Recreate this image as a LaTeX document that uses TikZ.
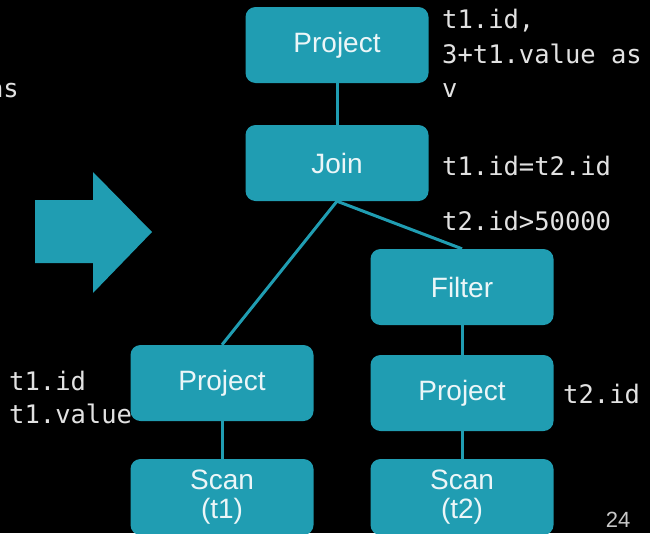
\documentclass[tikz,border=0pt]{standalone}
\usepackage{fontspec}
\setmainfont{Liberation Sans}
\setmonofont{DejaVu Sans Mono}
\definecolor{opteal}{RGB}{32,157,178}
\definecolor{boxtext}{RGB}{236,246,248}
\definecolor{codetext}{RGB}{226,226,226}
\definecolor{pagenum}{RGB}{200,200,200}
\begin{document}
\begin{tikzpicture}[x=1pt,y=-1pt,
  op/.style={fill=opteal, rounded corners=10pt, minimum width=183pt,
    minimum height=76pt, text=boxtext, align=center, inner sep=0pt,
    font=\fontsize{28}{29}\selectfont},
  link/.style={draw=opteal, line width=3pt},
  code/.style={font=\ttfamily\fontsize{25.5}{30}\selectfont, text=codetext,
    inner sep=0pt}]
  \fill[black] (0,0) rectangle (650,533);
  \useasboundingbox (0,0) rectangle (650,533);
  \clip (0,0) rectangle (650,533);

  % transformation arrow
  \fill[opteal] (35,200) -- (93,200) -- (93,172) -- (152,232) -- (93,293)
    -- (93,263) -- (35,263) -- cycle;

  % operator tree
  \node[op] (top)    at (337,45)  {Project};
  \node[op] (join)   at (337,163) {Join};
  \node[op] (filter) at (462,287) {Filter};
  \node[op] (rproj)  at (462,393) {Project};
  \node[op] (rscan)  at (462,497) {Scan\\(t2)};
  \node[op] (lproj)  at (222,383) {Project};
  \node[op] (lscan)  at (222,497) {Scan\\(t1)};

  \draw[link] (top) -- (join);
  \draw[link] (join.south) -- (lproj.north);
  \draw[link] (join.south) -- (filter.north);
  \draw[link] (filter) -- (rproj);
  \draw[link] (rproj) -- (rscan);
  \draw[link] (lproj) -- (lscan);

  % operator annotations
  \node[code, anchor=base west] (pa1) at (442,28) {t1.id,};
  \node[code, anchor=base west] (pa2) at (442,63) {3+t1.value as};
  \node[code, anchor=base west] (pa3) at (442,97) {v};
  \node[code, anchor=base east] (prev) at (19,97) {as};
  \node[code, anchor=base west] (ja) at (442,175) {t1.id=t2.id};
  \node[code, anchor=base west] (fa) at (442,230) {t2.id>50000};
  \node[code, anchor=base west] (ra) at (563,403) {t2.id};
  \node[code, anchor=base west] (la1) at (9,390) {t1.id};
  \node[code, anchor=base west] (la2) at (9,423) {t1.value};

  % slide number
  \node[font=\fontsize{22}{24}\selectfont, text=pagenum, anchor=base]
    (num) at (618,527) {24};
\end{tikzpicture}
\end{document}
